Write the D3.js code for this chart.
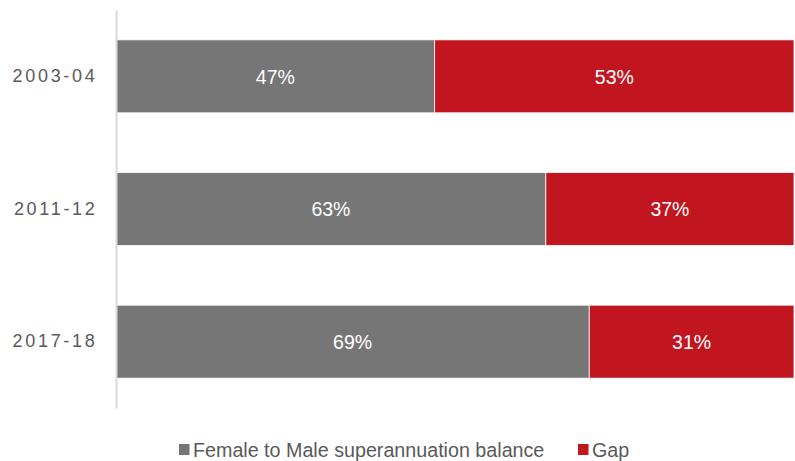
<!DOCTYPE html>
<html><head><meta charset="utf-8">
<script src="https://cdn.jsdelivr.net/npm/d3@7"></script>
<style>body{margin:0;background:#fff}svg{display:block}</style>
</head><body>
<svg id="c" width="795" height="461"></svg>
<script>
const categories = ["2003-04", "2011-12", "2017-18"];
const femaleValues = [47.0, 63.4, 69.8];
const gapValues = [53.0, 36.6, 30.2];
const femaleLabels = ["47%", "63%", "69%"];
const gapLabels = ["53%", "37%", "31%"];
const seriesNames = ["Female to Male superannuation balance", "Gap"];
const colors = ["#767676", "#C1161F"];

const svg = d3.select("#c");
const x = d3.scaleLinear().domain([0, 100]).range([116, 794]);
const y = d3.scaleBand().domain(categories).range([10, 408]).paddingInner(0.45).paddingOuter(0.225);

const rows = categories.map((c, i) => ({cat: c, female: femaleValues[i], gap: gapValues[i], fl: femaleLabels[i], gl: gapLabels[i]}));
const stack = d3.stack().keys(["female", "gap"])(rows);

stack.forEach((s, si) => {
  const g = svg.append("g");
  g.selectAll("rect").data(s).enter().append("rect")
    .attr("x", d => x(d[0]))
    .attr("y", d => y(d.data.cat))
    .attr("width", d => x(d[1]) - x(d[0]))
    .attr("height", y.bandwidth())
    .attr("fill", colors[si])
    .attr("stroke", "#fff").attr("stroke-width", 0.8);
  g.selectAll("text").data(s).enter().append("text")
    .attr("x", d => (x(d[0]) + x(d[1])) / 2)
    .attr("y", d => y(d.data.cat) + y.bandwidth() / 2)
    .attr("dy", "0.37em")
    .attr("text-anchor", "middle")
    .attr("fill", "#fff")
    .attr("font-family", "Liberation Sans, Arial, sans-serif")
    .attr("font-size", 19.5)
    .text(d => si === 0 ? d.data.fl : d.data.gl);
});

// axis
const ax = svg.append("g").attr("transform", "translate(116,0)").call(d3.axisLeft(y).tickSize(0).tickPadding(18.5));
ax.select(".domain").attr("stroke", "#d9d9d9").attr("stroke-width", 2);
ax.selectAll("text").attr("fill", "#595959").attr("font-family", "Liberation Sans, Arial, sans-serif")
  .attr("font-size", 18).attr("letter-spacing", "2.7px");

// legend
const leg = svg.append("g");
const legX = [179, 578];
seriesNames.forEach((n, i) => {
  leg.append("rect").attr("x", legX[i]).attr("y", 444).attr("width", 10.5).attr("height", 11).attr("fill", colors[i]);
  leg.append("text").attr("x", legX[i] + 14).attr("y", 449.5).attr("dy", "0.36em")
    .attr("fill", "#595959").attr("font-family", "Liberation Sans, Arial, sans-serif").attr("font-size", 19.7)
    .text(n);
});
</script>
</body></html>
